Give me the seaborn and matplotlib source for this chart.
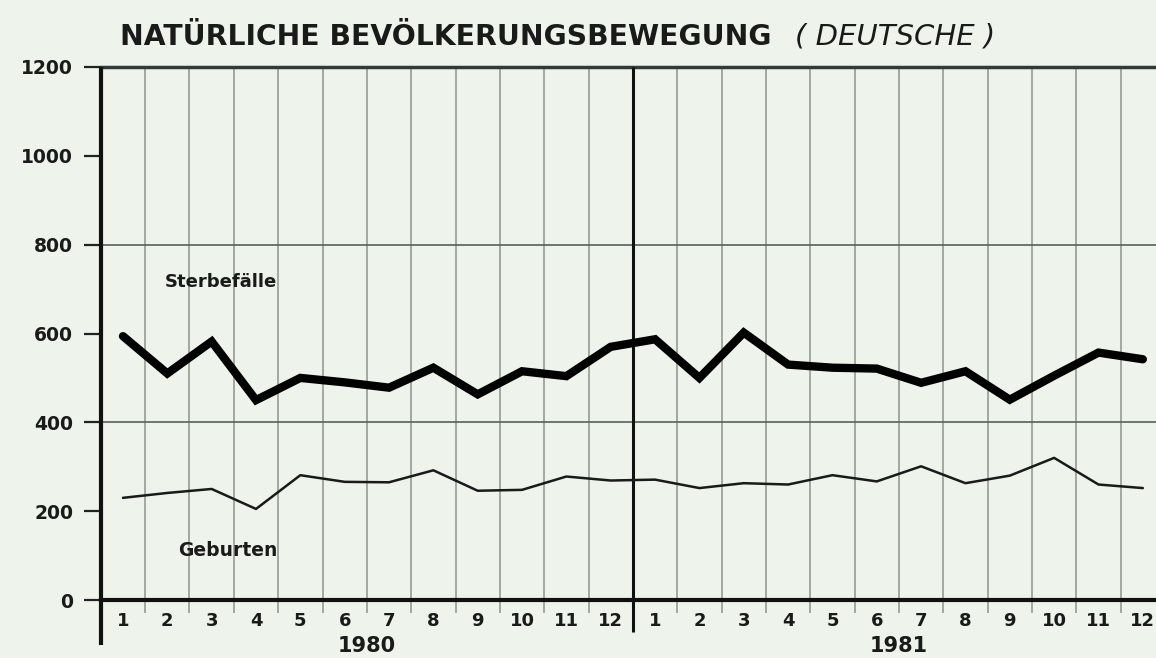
import numpy as np
import pandas as pd
import matplotlib
matplotlib.use("Agg")
import matplotlib.pyplot as plt
import seaborn as sns

# Daten, Monate 1980 und 1981
monate = list(range(1, 13)) * 2
jahre = ["1980", "1981"]
sterbefaelle = [594, 510, 582, 450, 500, 490, 478, 523, 463, 515, 504, 570,
                587, 500, 602, 530, 523, 521, 489, 515, 451, 505, 557, 542]
geburten = [230, 241, 250, 205, 281, 266, 265, 292, 246, 248, 278, 269,
            271, 252, 263, 260, 281, 267, 301, 263, 280, 320, 260, 252]
y_ticks = [0, 200, 400, 600, 800, 1000, 1200]
y_grid = [400, 800]

idx = np.arange(1, len(monate) + 1)
df = pd.DataFrame({"idx": idx, "Sterbefälle": sterbefaelle, "Geburten": geburten})

bg = "#eef3ec"
ink = "#1a1a1a"
sns.set_theme(style="white")
plt.rcParams["font.family"] = ["DejaVu Sans"]

fig = plt.figure(figsize=(11.56, 6.58), dpi=100, facecolor=bg)
ax = fig.add_axes([100.8 / 1156, 58 / 658, 1064.2 / 1156, 533 / 658])
ax.set_facecolor(bg)

# Linien
sns.lineplot(data=df, x="idx", y="Sterbefälle", color="black", linewidth=6,
             ax=ax, solid_joinstyle="miter", zorder=5)
sns.lineplot(data=df, x="idx", y="Geburten", color=ink, linewidth=1.8,
             ax=ax, zorder=5)

ax.set_xlim(0.5, 24.5)
ax.set_ylim(0, 1200)

# Gitter
for b in np.arange(1.5, 24.5, 1.0):
    if b == 12.5:
        continue
    ax.axvline(b, color="#949c94", lw=1.2, zorder=1)
for g in y_grid:
    ax.axhline(g, color="#55605f", lw=1.2, zorder=2)

# Jahresgrenze und linke Achse, nach unten verlängert
ax.vlines(12.5, -0.06, 1, transform=ax.get_xaxis_transform(), color="#111111",
          lw=2.2, clip_on=False, zorder=3)
ax.vlines(0.5, -0.085, 1, transform=ax.get_xaxis_transform(), color="#111111",
          lw=3, clip_on=False, zorder=3)

for s in ["left", "right"]:
    ax.spines[s].set_visible(False)
ax.spines["bottom"].set_color("#111111")
ax.spines["bottom"].set_linewidth(3)
ax.spines["top"].set_color("#2f3a3a")
ax.spines["top"].set_linewidth(2.5)

# Achsenbeschriftung
ax.set_yticks(y_ticks)
ax.set_yticklabels([str(v) for v in y_ticks], fontsize=13.5, fontweight="bold")
ax.tick_params(axis="y", left=True, length=12, width=1.6, color="#222222",
               pad=8, labelcolor=ink)

ax.set_xticks(idx)
ax.set_xticklabels([str(m) for m in monate], fontsize=13, fontweight="bold")
ax.set_xticks(np.arange(1.5, 24.5, 1.0), minor=True)
ax.tick_params(axis="x", which="major", length=0, pad=9, labelcolor=ink)
ax.tick_params(axis="x", which="minor", bottom=True, length=9, width=1.2,
               color="#949c94")
ax.set_xlabel("")
ax.set_ylabel("")

for i, j in enumerate(jahre):
    ax.text(6.5 + 12 * i, -0.086, j, transform=ax.get_xaxis_transform(),
            ha="center", va="center", fontsize=15, fontweight="bold", color=ink)

# Serienbeschriftung
ax.text(3.21, 716, "Sterbefälle", ha="center", va="center", fontsize=13,
        fontweight="bold", color=ink)
ax.text(3.37, 112, "Geburten", ha="center", va="center", fontsize=13.5,
        fontweight="bold", color=ink)

# Titel
fig.text(120 / 1156, 1 - 37 / 658, "NATÜRLICHE BEVÖLKERUNGSBEWEGUNG",
         ha="left", va="center", fontsize=20.3, fontweight="bold", color=ink)
fig.text(795 / 1156, 1 - 37 / 658, "( DEUTSCHE )", ha="left", va="center",
         fontsize=21, style="italic", color=ink)

fig.savefig("out.png", dpi=100, facecolor=bg)
